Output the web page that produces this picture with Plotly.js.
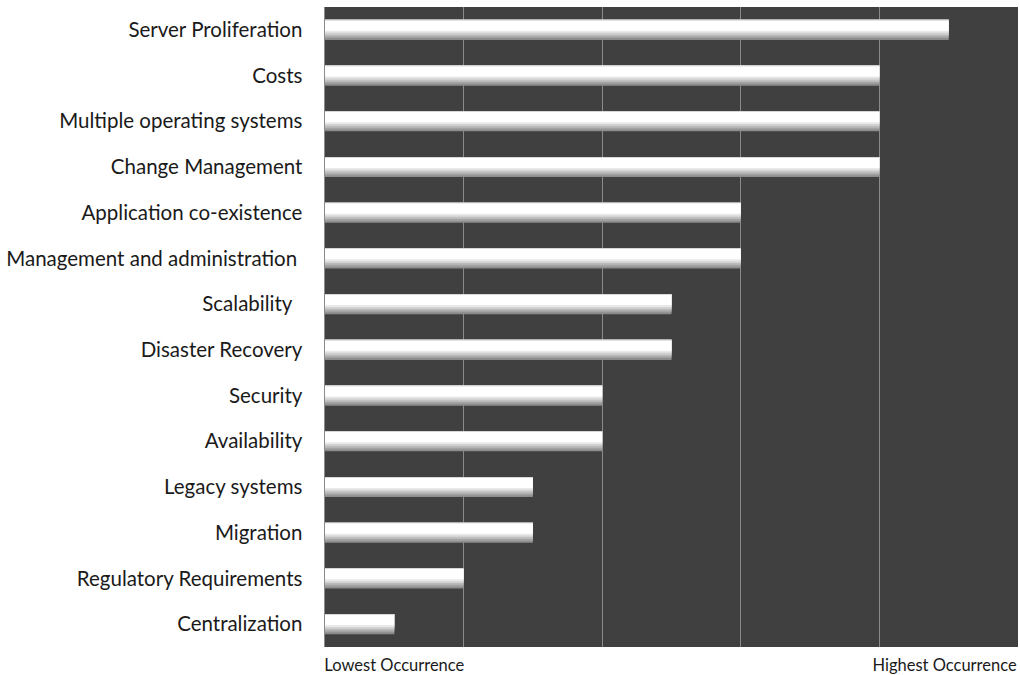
<!DOCTYPE html>
<html>
<head>
<meta charset="utf-8">
<script src="https://cdn.plot.ly/plotly-3.0.1.min.js"></script>
<style>html,body{margin:0;padding:0;background:#fff;}#chart{width:1020px;height:675px;}</style>
</head>
<body>
<div id="chart"></div>
<script>
// Data (top to bottom)
var categories = [
  "Server Proliferation",
  "Costs",
  "Multiple operating systems",
  "Change Management",
  "Application co-existence",
  "Management and administration\u00a0",
  "Scalability\u00a0\u00a0",
  "Disaster Recovery",
  "Security",
  "Availability",
  "Legacy systems",
  "Migration",
  "Regulatory Requirements",
  "Centralization"
];
var occurrence = [4.5, 4, 4, 4, 3, 3, 2.5, 2.5, 2, 2, 1.5, 1.5, 1, 0.5];
var tickValues = [0.5, 4.47];
var tickLabels = ["Lowest Occurrence", "Highest Occurrence"];
var gridValues = [1, 2, 3, 4, 5];

// bar "cylinder" shading layers: [start offset, end offset, color]
var layers = [
  [-0.22, 0.22, "#8c8c8c"],
  [-0.22, 0.18, "#a3a3a3"],
  [-0.22, 0.14, "#bbbbbb"],
  [-0.22, 0.10, "#d3d3d3"],
  [-0.22, 0.06, "#e9e9e9"],
  [-0.205, 0.02, "#ffffff"],
  [-0.22, -0.205, "#d2d2d2"]
];
var traces = layers.map(function (l) {
  return {
    type: "bar",
    orientation: "h",
    y: categories,
    x: occurrence,
    width: l[1] - l[0],
    offset: l[0],
    marker: {color: l[2], line: {width: 0}},
    hoverinfo: "skip",
    showlegend: false
  };
});

var layout = {
  width: 1020,
  height: 675,
  margin: {l: 325, r: 2, t: 7, b: 28},
  paper_bgcolor: "#ffffff",
  plot_bgcolor: "#404040",
  barmode: "overlay",
  font: {family: "Lato, 'Noto Sans', sans-serif", color: "#1a1a1a"},
  xaxis: {
    range: [0, 5],
    tickvals: tickValues,
    ticktext: tickLabels,
    showgrid: false,
    zeroline: false,
    showline: false,
    ticks: "outside",
    ticklen: 3,
    tickcolor: "rgba(0,0,0,0)",
    tickfont: {size: 16.5, color: "#1a1a1a"},
    minor: {tickvals: gridValues, showgrid: true, gridcolor: "#8a8a8a", gridwidth: 1.3, ticks: ""},
    fixedrange: true
  },
  yaxis: {
    type: "category",
    autorange: "reversed",
    showgrid: false,
    zeroline: false,
    showline: true,
    linecolor: "#8a8a8a",
    linewidth: 1.5,
    ticks: "outside",
    ticklen: 17,
    tickcolor: "rgba(0,0,0,0)",
    tickfont: {size: 20.5, color: "#1a1a1a"},
    fixedrange: true
  }
};

Plotly.newPlot("chart", traces, layout, {displayModeBar: false, staticPlot: true});
</script>
</body>
</html>
